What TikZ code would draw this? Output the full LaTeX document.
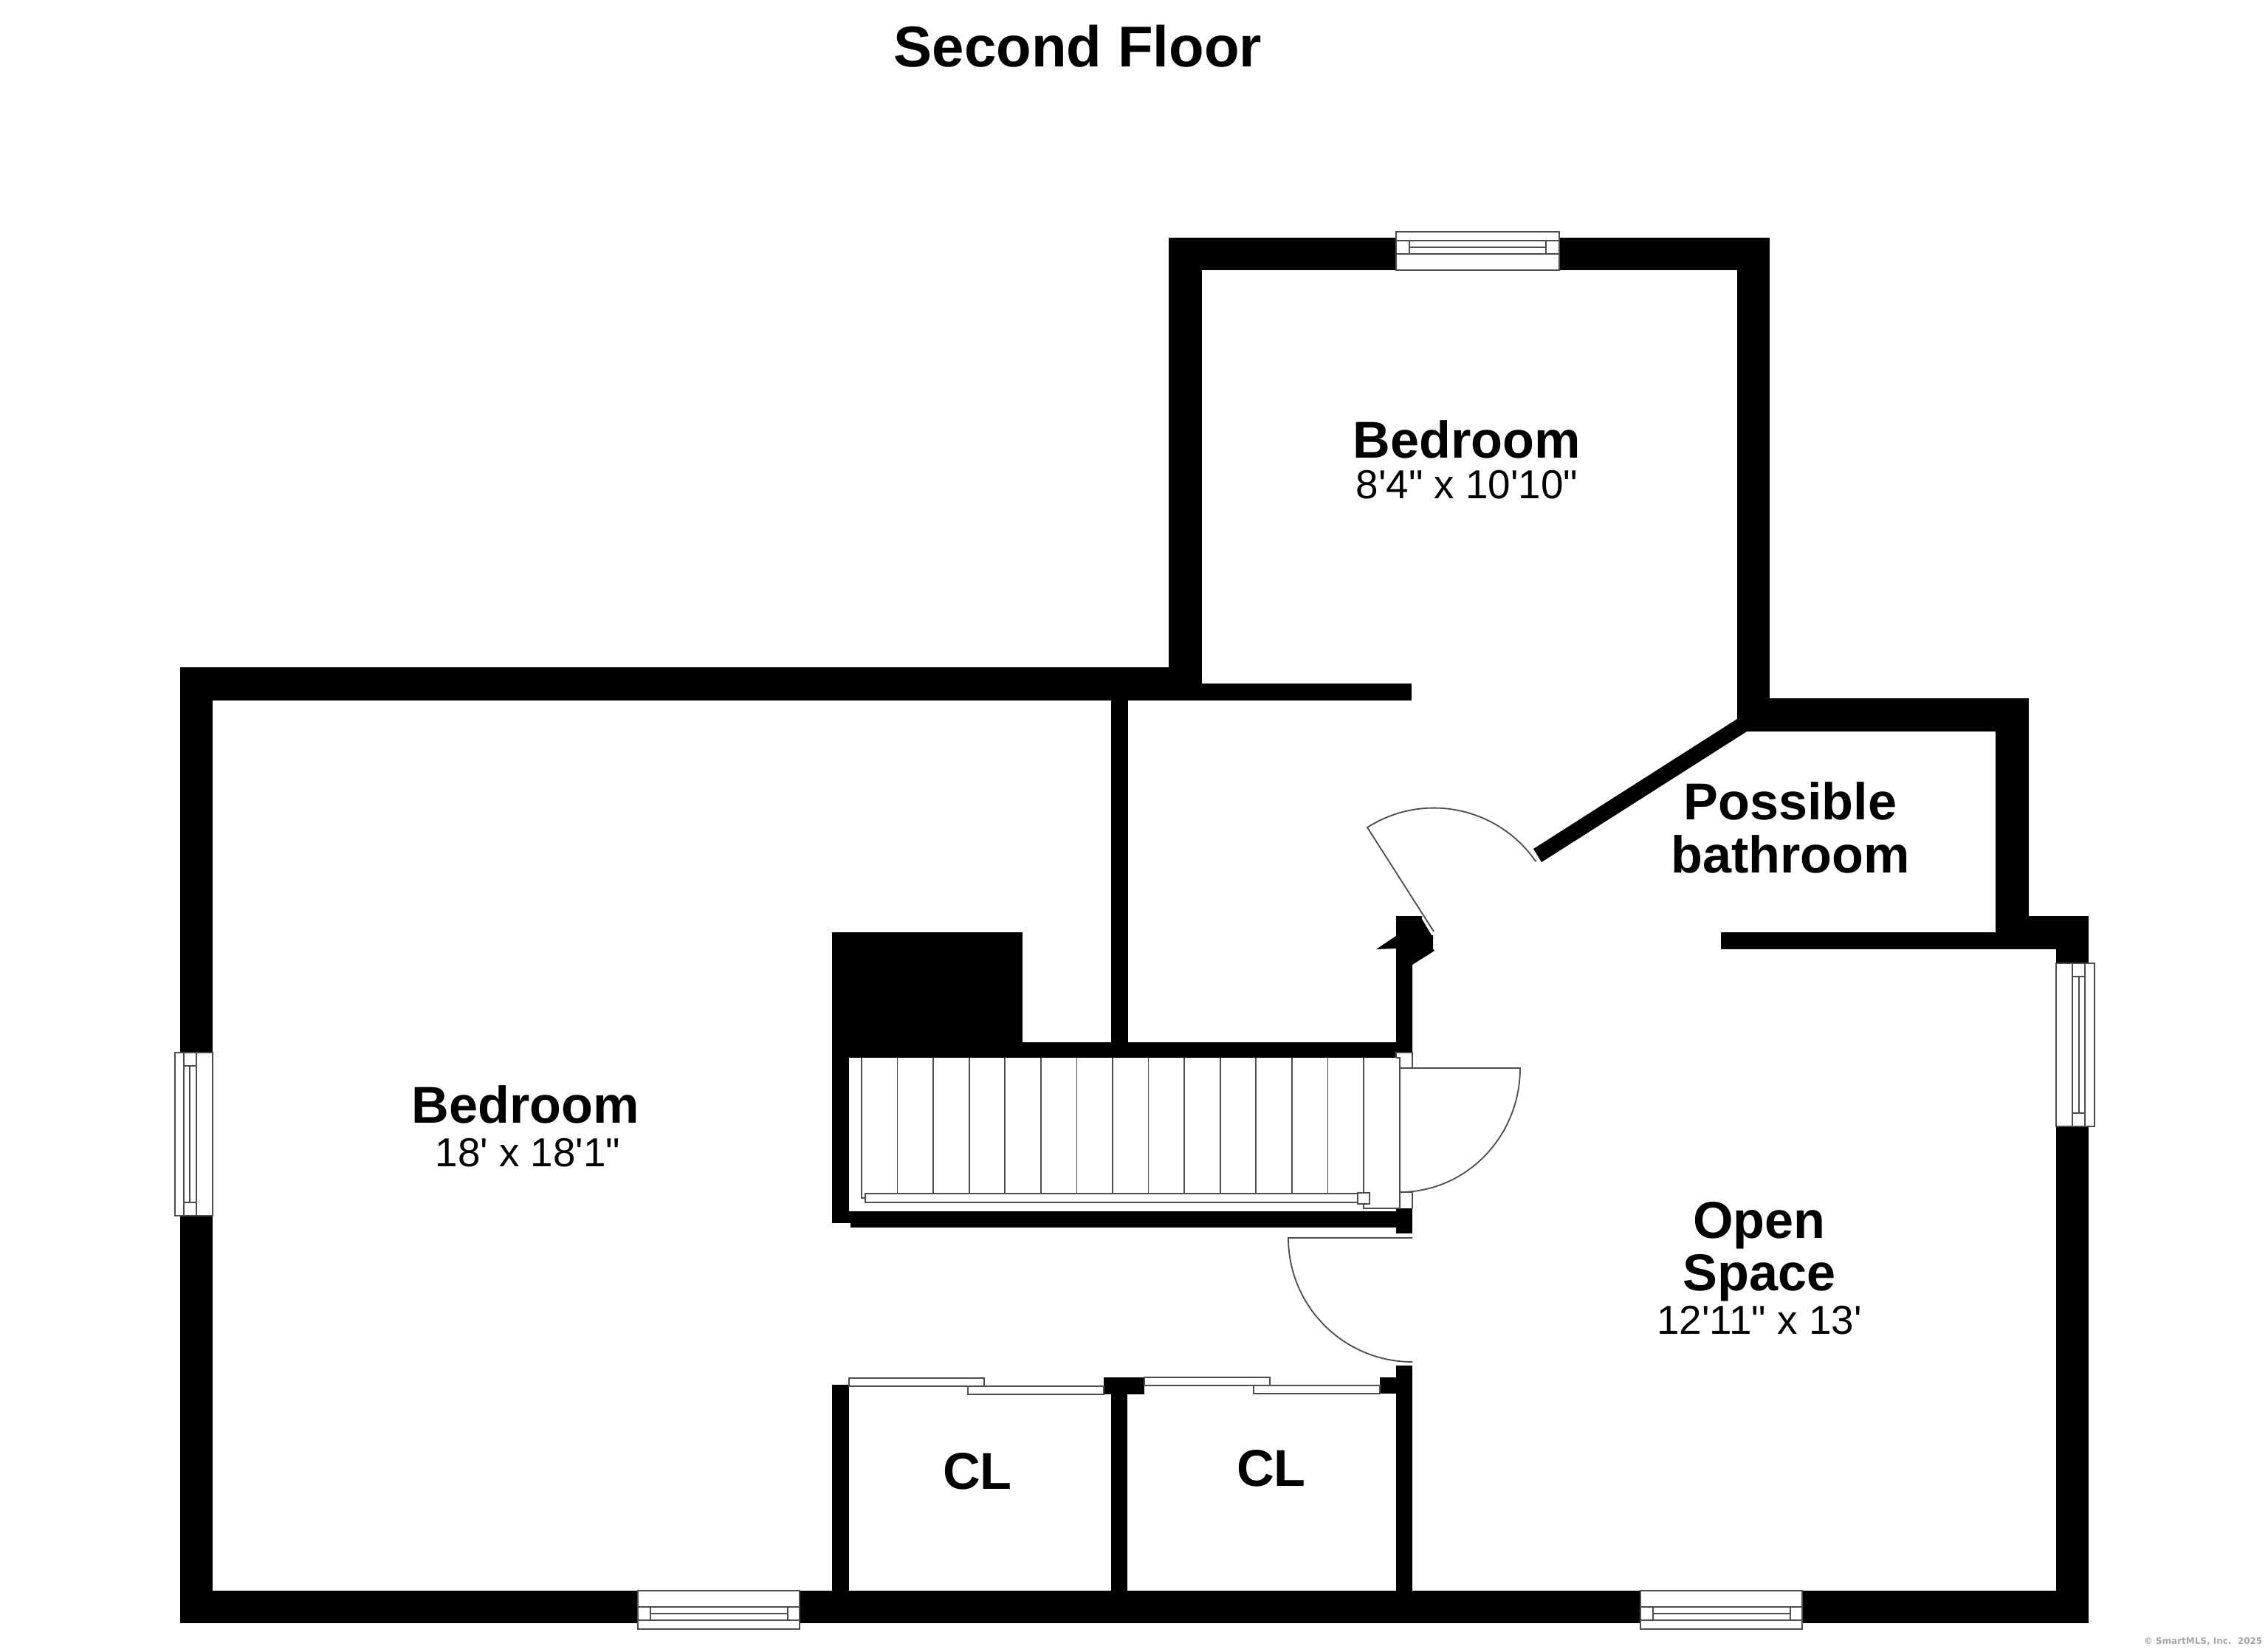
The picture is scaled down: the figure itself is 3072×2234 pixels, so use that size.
\documentclass[tikz,border=0pt]{standalone}
\usepackage{fontspec}
\newfontfamily\lib{Liberation Sans}
\newfontfamily\dej{DejaVu Sans}
\tikzset{
  wall/.style={fill=black,draw=none},
  thinline/.style={draw=black!70,line width=0.45pt,line join=miter},
  frame/.style={thinline,fill=white},
  room/.style={anchor=base,inner sep=0pt,font={\lib\bfseries\fontsize{17.55}{20}\selectfont}},
  dims/.style={anchor=base,inner sep=0pt,font={\lib\fontsize{13.7}{16}\selectfont}}
}
\begin{document}
\begin{tikzpicture}[x=0.25pt,y=0.25pt,yscale=-1]
\fill[white] (0,0) rectangle (3072,2234);
\useasboundingbox (0,0) rectangle (3072,2234);
% outer and inner walls
\fill[wall] (244,904) rectangle (288,2199);
\fill[wall] (244,904) rectangle (1628,949);
\fill[wall] (1583,322) rectangle (1628,949);
\fill[wall] (1583,322) rectangle (2397,366);
\fill[wall] (2353,322) rectangle (2397,991);
\fill[wall] (2353,946) rectangle (2748,991);
\fill[wall] (2703,946) rectangle (2748,1286);
\fill[wall] (2331,1263) rectangle (2829,1286);
\fill[wall] (2703,1241) rectangle (2829,1286);
\fill[wall] (2785,1241) rectangle (2829,2199);
\fill[wall] (244,2155) rectangle (2829,2199);
\fill[wall] (1583,926) rectangle (1912,949);
\fill[wall] (1505,949) rectangle (1528,1412);
\fill[wall] (2353,974) -- (2366,991) -- (2088,1168) -- (2077,1150) -- cycle;
% stair enclosure
\fill[wall] (1127,1263) rectangle (1385,1433);
\fill[wall] (1127,1263) rectangle (1150,1657);
\fill[wall] (1127,1412) rectangle (1891,1433);
\fill[wall] (1891,1241) -- (1926,1241) -- (1926,1245) -- (1939,1267) -- (1941,1267) -- (1941,1286) -- (1943,1288) -- (1913,1307) -- (1913,1426) -- (1891,1426) -- (1891,1285) -- (1864,1286) -- (1891,1268) -- cycle;
\fill[wall] (1152,1641) rectangle (1891,1663);
\fill[wall] (1127,1641) rectangle (1152,1657);
\fill[wall] (1891,1637) rectangle (1913,1671);
% closets
\fill[wall] (1127,1876) rectangle (1150,2155);
\fill[wall] (1505,1889) rectangle (1527,2155);
\fill[wall] (1495,1866) rectangle (1550,1889);
\fill[wall] (1869,1866) rectangle (1891,1888);
\fill[wall] (1891,1850) rectangle (1913,2155);
% top window
\draw[frame] (1891,314) rectangle (2112,366);
\draw[thinline] (1891,326) -- (2112,326) (1891,344) -- (2112,344) (1909,326) -- (1909,344) (2094,326) -- (2094,344) (1909,335) -- (2094,335);
% left window
\draw[frame] (237,1426) rectangle (288,1647);
\draw[thinline] (249,1426) -- (249,1647) (266,1426) -- (266,1647) (249,1444) -- (266,1444) (249,1629) -- (266,1629) (257,1444) -- (257,1629);
% right window
\draw[frame] (2785,1305) rectangle (2837,1526);
\draw[thinline] (2807,1305) -- (2807,1526) (2824,1305) -- (2824,1526) (2807,1323) -- (2824,1323) (2807,1508) -- (2824,1508) (2816,1323) -- (2816,1508);
% bottom windows
\draw[frame] (864,2155) rectangle (1083,2207);
\draw[thinline] (864,2177) -- (1083,2177) (864,2195) -- (1083,2195) (881,2177) -- (881,2195) (1067,2177) -- (1067,2195) (881,2186) -- (1067,2186);
\draw[frame] (2222,2155) rectangle (2441,2207);
\draw[thinline] (2222,2177) -- (2441,2177) (2222,2195) -- (2441,2195) (2239,2177) -- (2239,2195) (2425,2177) -- (2425,2195) (2239,2186) -- (2425,2186);
% sliding closet doors
\draw[frame] (1150,1867) rectangle (1333,1878);
\draw[frame] (1311,1878) rectangle (1495,1889);
\draw[frame] (1550,1866) rectangle (1720,1877);
\draw[frame] (1698,1877) rectangle (1869,1888);
% stairs
\draw[thinline] (1891,1433) -- (1891,1426) -- (1913,1426) -- (1913,1447) -- (1896,1447);
\draw[thinline] (1896,1615) -- (1913,1615) -- (1913,1637);
\draw[thinline] (1891,1433) -- (1896,1433) -- (1896,1637) -- (1891,1637) -- (1847,1637) -- (1847,1433);
\foreach \k in {1,...,13} {\draw[thinline] ({1167+\k*48.57},1433) -- ({1167+\k*48.57},1617);}
\draw[thinline] (1167,1433) -- (1167,1623) -- (1172,1623);
\draw[frame] (1172,1617) rectangle (1839,1629);
\draw[frame] (1839,1616) rectangle (1855,1631);
% doors
\coordinate (doorA) at (1852,1121);
\coordinate (hingeA) at (1942,1262);
\draw[thinline] (hingeA) -- (doorA) arc[start angle=-122.6,end angle=-34.5,radius=167.5];
\coordinate (doorB) at (1896,1447);
\draw[thinline] (doorB) -- (2059,1447) arc[start angle=0,end angle=90,x radius=163,y radius=168];
\coordinate (doorC) at (1913,1677);
\draw[thinline] (doorC) -- (1745,1677) arc[start angle=180,end angle=90,radius=168];
% labels
\node[room,font={\lib\bfseries\fontsize{19.5}{22}\selectfont}] (title) at (1460,91) {Second Floor};
\node[room] (bedA) at (1987,621) {Bedroom};
\node[dims] (bedAd) at (1987,676) {8'4" x 10'10"};
\node[room] (bathA) at (2425,1110) {Possible};
\node[room] (bathB) at (2425,1182) {bathroom};
\node[room] (bedB) at (712,1521) {Bedroom};
\node[dims] (bedBd) at (715,1580) {18' x 18'1"};
\node[room] (openA) at (2383,1677) {Open};
\node[room] (openB) at (2383,1748) {Space};
\node[dims] (opend) at (2383,1807) {12'11" x 13'};
\node[room] (clA) at (1324,2017) {CL};
\node[room] (clB) at (1722,2013) {CL};
\node[anchor=base west,inner sep=0pt,text=black!35,font={\dej\bfseries\fontsize{3}{4}\selectfont}] (copy) at (2903,2227) {© SmartMLS, Inc.\ \ 2025};
\end{tikzpicture}
\end{document}
